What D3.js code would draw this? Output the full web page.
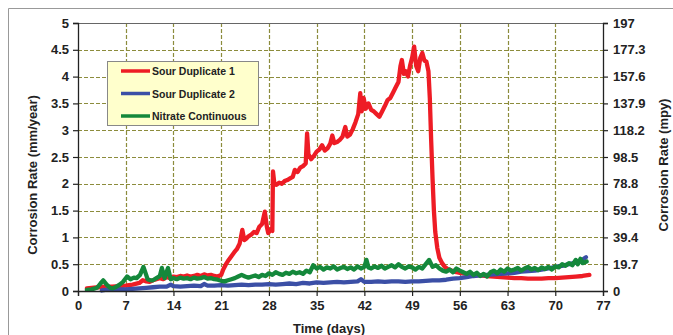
<!DOCTYPE html>
<html><head><meta charset="utf-8">
<script src="https://cdn.jsdelivr.net/npm/d3@7"></script>
<style>body{margin:0;background:#fff;} svg{display:block;} text{font-family:"Liberation Sans",Arial,sans-serif;font-weight:bold;fill:#222;}</style>
</head><body>
<svg id="c" width="673" height="335"></svg>
<script>
const xTicks = [0,7,14,21,28,35,42,49,56,63,70,77];
const yTicksLeft = [0,0.5,1,1.5,2,2.5,3,3.5,4,4.5,5];
const yTicksRightLabels = ["0","19.7","39.4","59.1","78.8","98.5","118.2","137.9","157.6","177.3","197"];
const seriesNames = ["Sour Duplicate 1","Sour Duplicate 2","Nitrate Continuous"];
const seriesColors = ["#ee1c25","#3b4fa6","#14883b"];

const sour1 = [[1.3,0.05],[2,0.06],[3,0.07],[4,0.08],[5,0.08],[6,0.09],[7,0.1],[8,0.12],[9,0.15],[9.5,0.2],[10,0.18],[10.5,0.17],[11,0.2],[11.5,0.22],[12,0.24],[12.5,0.22],[13,0.26],[13.5,0.24],[14,0.27],[14.5,0.26],[15,0.28],[15.5,0.27],[16,0.29],[16.5,0.27],[17,0.28],[17.5,0.3],[18,0.28],[18.5,0.31],[19,0.29],[19.5,0.3],[20,0.28],[20.5,0.27],[21,0.3],[21.3,0.4],[21.7,0.5],[22.1,0.58],[22.5,0.65],[22.9,0.72],[23.3,0.78],[23.7,0.88],[24.1,1.14],[24.4,0.95],[24.7,0.98],[25,1.02],[25.4,1.05],[25.8,1.1],[26.2,1.08],[26.6,1.2],[27,1.25],[27.4,1.48],[27.7,1.2],[27.9,1.08],[28.2,1.14],[28.5,1.12],[28.6,2.23],[28.8,2.0],[29.1,1.98],[29.5,2.02],[29.9,2.0],[30.3,2.05],[30.7,2.07],[31.1,2.1],[31.5,2.13],[31.8,2.26],[32.2,2.22],[32.6,2.3],[33,2.33],[33.4,2.38],[33.6,2.94],[33.8,2.55],[34.2,2.46],[34.6,2.52],[35,2.6],[35.4,2.64],[35.8,2.72],[36.2,2.62],[36.6,2.66],[37,2.75],[37.3,2.9],[37.6,2.76],[38,2.78],[38.4,2.82],[38.8,2.88],[39.2,3.06],[39.5,2.88],[39.9,2.92],[40.3,3.02],[40.7,3.15],[41.1,3.3],[41.4,3.69],[41.6,3.35],[41.9,3.6],[42.2,3.4],[42.6,3.5],[43,3.38],[43.4,3.35],[43.8,3.3],[44.2,3.25],[44.6,3.35],[45,3.45],[45.4,3.56],[45.8,3.6],[46.2,3.7],[46.6,3.8],[47,3.9],[47.3,4.2],[47.5,4.31],[47.8,4.05],[48.1,4.1],[48.4,4.0],[48.7,4.2],[49,4.35],[49.3,4.56],[49.6,4.2],[49.9,4.1],[50.2,4.35],[50.5,4.44],[50.8,4.3],[51.1,4.28],[51.4,4.1],[51.6,3.6],[51.8,2.8],[52,2.1],[52.2,1.5],[52.4,1.1],[52.7,0.8],[53,0.62],[53.4,0.52],[53.8,0.45],[54.2,0.41],[54.6,0.39],[55,0.37],[55.5,0.35],[56,0.34],[57,0.32],[58,0.3],[59,0.29],[60,0.28],[61,0.27],[62,0.26],[63,0.25],[64,0.24],[65,0.24],[66,0.23],[67,0.23],[68,0.23],[69,0.24],[70,0.24],[71,0.25],[72,0.26],[73,0.27],[74,0.28],[75,0.3]];

const sour2 = [[3.5,0.01],[4,0.02],[5,0.02],[6,0.03],[7,0.03],[8,0.04],[9,0.05],[10,0.06],[11,0.07],[12,0.08],[13,0.08],[13.6,0.12],[14,0.09],[15,0.08],[16,0.09],[17,0.1],[18,0.09],[18.5,0.13],[19,0.1],[20,0.1],[21,0.11],[22,0.1],[23,0.11],[24,0.12],[25,0.11],[26,0.12],[27,0.12],[28,0.13],[29,0.12],[30,0.13],[31,0.14],[32,0.13],[33,0.15],[34,0.14],[35,0.16],[36,0.15],[37,0.16],[38,0.17],[39,0.16],[40,0.17],[41,0.18],[41.5,0.22],[42,0.17],[43,0.17],[44,0.18],[45,0.17],[46,0.18],[47,0.18],[48,0.17],[49,0.18],[50,0.18],[51,0.19],[52,0.2],[53,0.2],[54,0.21],[55,0.23],[56,0.24],[57,0.26],[58,0.28],[59,0.29],[60,0.3],[61,0.31],[62,0.32],[63,0.33],[64,0.34],[65,0.36],[66,0.37],[67,0.38],[68,0.4],[69,0.42],[70,0.45],[71,0.47],[72,0.5],[73,0.53],[73.8,0.57],[74.5,0.63]];

const nitrate = [[1.3,0.02],[2,0.03],[2.8,0.06],[3.3,0.14],[3.7,0.2],[4.2,0.12],[4.7,0.06],[5.1,0.05],[5.6,0.08],[6.1,0.12],[6.6,0.17],[7.2,0.27],[7.7,0.22],[8.2,0.25],[8.6,0.24],[9.1,0.3],[9.6,0.45],[10,0.3],[10.2,0.22],[10.6,0.2],[11,0.2],[11.5,0.24],[12,0.28],[12.3,0.43],[12.7,0.24],[13.2,0.43],[13.6,0.22],[14,0.24],[14.5,0.22],[15,0.25],[15.5,0.23],[16,0.24],[16.5,0.22],[17,0.25],[17.5,0.23],[18,0.24],[18.5,0.26],[19,0.23],[19.5,0.24],[20,0.22],[20.5,0.21],[21,0.19],[21.5,0.18],[22,0.2],[22.5,0.22],[23,0.24],[23.5,0.27],[24,0.3],[24.5,0.27],[25,0.25],[25.5,0.27],[26,0.29],[26.5,0.26],[27,0.3],[27.5,0.28],[28,0.33],[28.5,0.3],[29,0.35],[29.5,0.32],[30,0.3],[30.5,0.34],[31,0.32],[31.5,0.36],[32,0.33],[32.5,0.35],[33,0.32],[33.5,0.38],[34,0.35],[34.5,0.48],[35,0.42],[35.5,0.45],[36,0.4],[36.5,0.44],[37,0.42],[37.5,0.46],[38,0.4],[38.5,0.43],[39,0.45],[39.5,0.41],[40,0.44],[40.5,0.4],[41,0.46],[41.5,0.42],[42,0.45],[42.3,0.58],[42.6,0.44],[43,0.42],[43.5,0.46],[44,0.43],[44.5,0.47],[45,0.42],[45.5,0.45],[46,0.48],[46.5,0.44],[47,0.5],[47.5,0.45],[48,0.42],[48.5,0.46],[49,0.44],[49.5,0.4],[50,0.45],[50.5,0.42],[51,0.5],[51.5,0.58],[52,0.45],[52.5,0.48],[53,0.42],[53.5,0.38],[54,0.36],[54.5,0.4],[55,0.35],[55.5,0.42],[56,0.38],[56.5,0.35],[57,0.32],[57.5,0.36],[58,0.3],[58.5,0.34],[59,0.28],[59.5,0.32],[60,0.27],[60.5,0.35],[61,0.38],[61.5,0.33],[62,0.4],[62.5,0.36],[63,0.42],[63.5,0.38],[64,0.4],[64.5,0.43],[65,0.38],[65.5,0.42],[66,0.45],[66.5,0.4],[67,0.43],[67.5,0.39],[68,0.44],[68.5,0.41],[69,0.45],[69.5,0.4],[70,0.46],[70.5,0.44],[71,0.5],[71.5,0.47],[72,0.52],[72.5,0.48],[73,0.58],[73.3,0.5],[73.7,0.6],[74,0.52],[74.6,0.55]];

const svg = d3.select("#c");
const L = 78, R = 603, T = 23, B = 291;
const x = d3.scaleLinear().domain([0,77]).range([L,R]);
const y = d3.scaleLinear().domain([0,5]).range([B,T]);
const yr = d3.scaleLinear().domain([0,197]).range([B,T]);

// outer frame
svg.append("path").attr("d","M8.5,340 V8.5 H680").attr("fill","none").attr("stroke","#999").attr("stroke-width",1);

// grid
const grid = svg.append("g").attr("stroke","#8c8c3c").attr("stroke-width",1.2).attr("stroke-dasharray","4,2");
grid.selectAll("line.h").data(yTicksLeft.slice(1,-1)).join("line")
  .attr("x1",L).attr("x2",R).attr("y1",d=>Math.round(y(d))+0.5).attr("y2",d=>Math.round(y(d))+0.5);
grid.selectAll("line.v").data(xTicks.slice(1,-1)).join("line")
  .attr("y1",T).attr("y2",B).attr("x1",d=>Math.round(x(d))+0.5).attr("x2",d=>Math.round(x(d))+0.5);

// top border
svg.append("line").attr("x1",L).attr("x2",R).attr("y1",T+0.5).attr("y2",T+0.5).attr("stroke","#666");

// series
const line = d3.line().x(d=>x(d[0])).y(d=>y(d[1])).curve(d3.curveLinear);
[sour1, sour2, nitrate].forEach((s,i)=>{
  svg.append("path").datum(s).attr("d",line).attr("fill","none")
    .attr("stroke",seriesColors[i]).attr("stroke-width",4.3).attr("stroke-linejoin","round").attr("stroke-linecap","round");
});

// axes
const fs = "13px";
const gl = svg.append("g").attr("transform",`translate(${L},0)`).call(d3.axisLeft(y).tickValues(yTicksLeft).tickFormat(d3.format("")).tickSize(5).tickPadding(4));
const gr = svg.append("g").attr("transform",`translate(${R},0)`).call(d3.axisRight(yr).tickValues(yTicksLeft.map(v=>v*39.4)).tickFormat((d,i)=>yTicksRightLabels[i]).tickSize(5).tickPadding(5));
const gb = svg.append("g").attr("transform",`translate(0,${B})`).call(d3.axisBottom(x).tickValues(xTicks).tickSize(5).tickPadding(5));
[gl,gr,gb].forEach(g=>{
  g.selectAll("path.domain").attr("stroke","#222").attr("stroke-width",1.3);
  g.selectAll(".tick line").attr("stroke","#222").attr("stroke-width",1.2);
  g.selectAll("text").style("font-family","'Liberation Sans',Arial,sans-serif").style("font-weight","bold").style("font-size",fs).attr("fill","#222");
});

// titles
svg.append("text").attr("transform","translate(37,175) rotate(-90)").attr("text-anchor","middle").style("font-size","13px").text("Corrosion Rate (mm/year)");
svg.append("text").attr("transform","translate(668,165) rotate(-90)").attr("text-anchor","middle").style("font-size","13px").text("Corrosion Rate (mpy)");
svg.append("text").attr("x",329).attr("y",333).attr("text-anchor","middle").style("font-size","13px").text("Time (days)");

// legend
const lg = svg.append("g");
lg.append("rect").attr("x",107.5).attr("y",61.5).attr("width",151).attr("height",64).attr("fill","#ffffcc").attr("stroke","#888").attr("stroke-width",1);
seriesNames.forEach((n,i)=>{
  const yy = 71 + i*22.5;
  lg.append("line").attr("x1",121).attr("x2",150).attr("y1",yy).attr("y2",yy).attr("stroke",seriesColors[i]).attr("stroke-width",3.5);
  lg.append("text").attr("x",152).attr("y",yy+4).style("font-size","10.5px").text(n);
});
</script>
</body></html>
